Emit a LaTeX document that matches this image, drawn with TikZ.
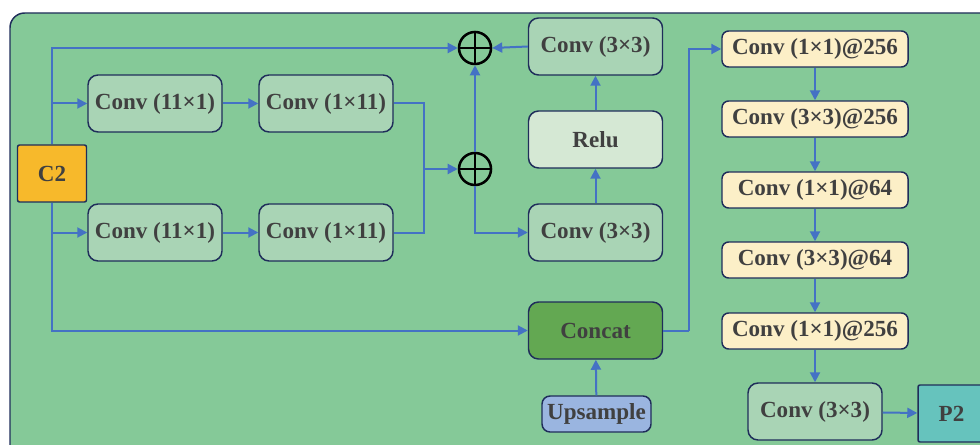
\documentclass[tikz,border=0pt]{standalone}
\usepackage{fontspec}
\setmainfont{Liberation Serif}
\usetikzlibrary{arrows.meta,calc}

\definecolor{panel}{HTML}{85C998}
\definecolor{boxgreen}{HTML}{A9D4B5}
\definecolor{relucol}{HTML}{D5E8D4}
\definecolor{concatcol}{HTML}{63A852}
\definecolor{upcol}{HTML}{9AB5E0}
\definecolor{yelcol}{HTML}{FCEFC7}
\definecolor{p2col}{HTML}{66C3BD}
\definecolor{c2col}{HTML}{F7B92B}
\definecolor{edge}{HTML}{1F2D5A}
\definecolor{flow}{HTML}{4472C4}
\definecolor{txt}{HTML}{404040}

\tikzset{
  blk/.style={draw=edge, line width=1.1pt, rounded corners=7.5pt,
    text=txt, font=\fontsize{17.3}{19}\selectfont\bfseries,
    inner sep=0pt, minimum width=100.5pt, minimum height=42.75pt},
  gbox/.style={blk, fill=boxgreen},
  ybox/.style={blk, fill=yelcol, rounded corners=5pt,
    minimum width=139.5pt, minimum height=27pt},
  sqbox/.style={blk, rounded corners=1.5pt, minimum width=51.75pt},
  addop/.style={circle, draw=black, line width=1.9pt, minimum size=24pt,
    inner sep=0pt, path picture={
      \draw[black, line width=1.9pt]
        (path picture bounding box.north) -- (path picture bounding box.south)
        (path picture bounding box.west) -- (path picture bounding box.east);}},
  wire/.style={draw=flow, line width=1.5pt},
  arr/.style={wire, -{Triangle[length=7.5pt,width=7.5pt]}},
}

\begin{document}
\begin{tikzpicture}[x=0.75pt,y=-0.75pt]
  \useasboundingbox (0,0) rectangle (980,445);
  \clip (0,0) rectangle (980,445);

  % outer panel
  \draw[draw=edge, line width=1.1pt, fill=panel, rounded corners=11pt]
    (10,13) rectangle (1010,470);

  % input
  \node[sqbox, fill=c2col] (C2) at (52,173.5) {C2};

  % two parallel separable branches
  \node[gbox] (c11a)  at (155,103.5) {Conv (11×1)};
  \node[gbox] (c111a) at (326,103.5) {Conv (1×11)};
  \node[gbox] (c11b)  at (155,232.5) {Conv (11×1)};
  \node[gbox] (c111b) at (326,232.5) {Conv (1×11)};

  % additions
  \node[addop] (plus1) at (475,48) {};
  \node[addop] (plus2) at (475,169) {};

  % refinement column
  \node[gbox] (cvtop) at (595.5,46.5) {Conv (3×3)};
  \node[gbox, fill=relucol] (relu) at (595.5,139.5) {Relu};
  \node[gbox] (cvlow) at (595.5,232.5) {Conv (3×3)};
  \node[gbox, fill=concatcol] (concat) at (595.5,330.5) {Concat};
  \node[blk, fill=upcol, rounded corners=6pt, minimum width=81.75pt,
        minimum height=27pt] (up) at (596.5,414) {Upsample};

  % output stack
  \node[ybox] (y1) at (815,49)  {Conv (1×1)@256};
  \node[ybox] (y2) at (815,119) {Conv (3×3)@256};
  \node[ybox] (y3) at (815,190) {Conv (1×1)@64};
  \node[ybox] (y4) at (815,260) {Conv (3×3)@64};
  \node[ybox] (y5) at (815,331) {Conv (1×1)@256};
  \node[gbox] (cvout) at (815,411.5) {Conv (3×3)};
  \node[sqbox, fill=p2col, minimum width=50.25pt] (P2) at (951.5,413.5) {P2};

  \coordinate (join) at (424,169);
  \coordinate (turn) at (689,330.5);

  % connectors from the input
  \draw[arr] (C2.north) |- (plus1.west);
  \draw[arr] (C2.north |- c11a.west) -- (c11a.west);
  \draw[arr] (C2.south) |- (concat.west);
  \draw[arr] (C2.south |- c11b.west) -- (c11b.west);

  \draw[arr] (c11a) -- (c111a);
  \draw[arr] (c11b) -- (c111b);
  \draw[wire] (c111a.east) -| (join);
  \draw[wire] (c111b.east) -| (join);
  \draw[arr] (join) -- (plus2.west);

  \draw[arr] (plus2.north) -- (plus1.south);
  \draw[arr] (plus2.south) |- (cvlow.west);
  \draw[arr] (cvlow) -- (relu);
  \draw[arr] (relu) -- (cvtop);
  \draw[arr] (cvtop.west) -- (plus1.east);

  \draw[arr] (up) -- (concat);
  \draw[wire] (concat.east) -- (turn);
  \draw[arr] (turn) |- (y1.west);

  \draw[arr] (y1) -- (y2);
  \draw[arr] (y2) -- (y3);
  \draw[arr] (y3) -- (y4);
  \draw[arr] (y4) -- (y5);
  \draw[arr] (y5) -- (cvout);
  \draw[arr] (cvout) -- (P2);
\end{tikzpicture}
\end{document}
